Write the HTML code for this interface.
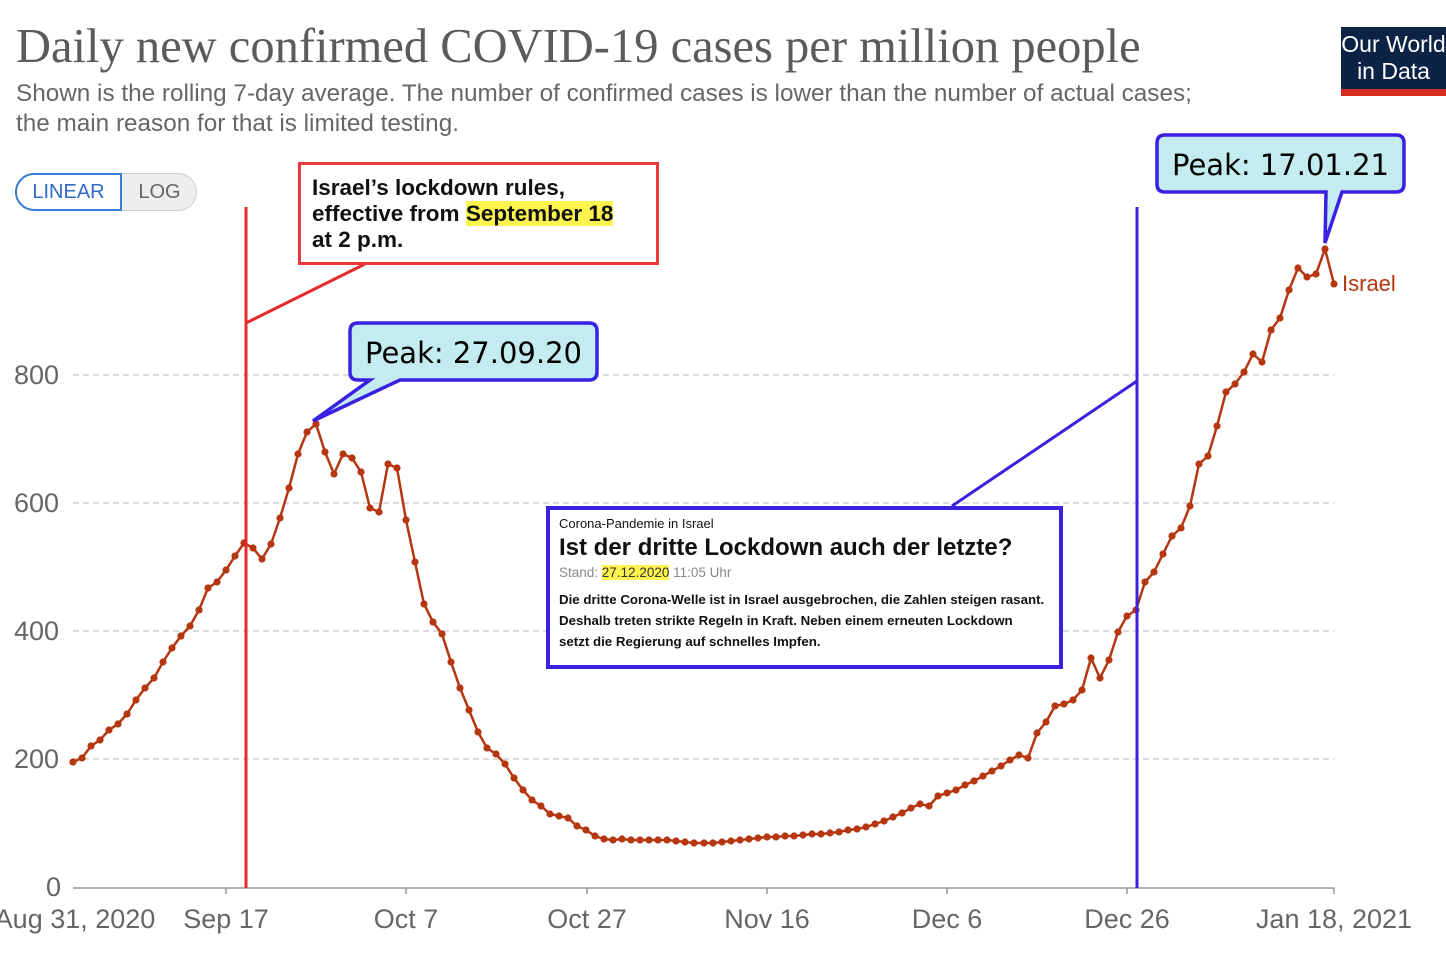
<!DOCTYPE html>
<html><head><meta charset="utf-8"><style>
body{margin:0;background:#fff;width:1446px;height:956px;overflow:hidden;position:relative;font-family:"Liberation Sans",sans-serif}
.a{position:absolute}
</style></head><body>
<div class="a" style="left:16px;top:19px;font-family:'Liberation Serif',serif;font-size:48.5px;color:#5b5b5b;white-space:nowrap">Daily new confirmed COVID-19 cases per million people</div>
<div class="a" style="left:16px;top:79px;font-size:24.3px;color:#666;line-height:30px;white-space:nowrap">Shown is the rolling 7-day average. The number of confirmed cases is lower than the number of actual cases;<br>the main reason for that is limited testing.</div>
<div class="a" style="left:1341px;top:27px;width:105px;height:62px;background:#0d2346;color:#fff;font-size:23px;line-height:27px;text-align:center;padding-top:4px;box-sizing:border-box;white-space:nowrap;overflow:hidden">Our World<br>in Data</div>
<div class="a" style="left:1341px;top:89px;width:105px;height:7px;background:#d42b21"></div>
<div class="a" style="left:15px;top:173px;width:182px;height:38px;border:1px solid #ccc;border-radius:19px;background:#eee;box-sizing:border-box"></div>
<div class="a" style="left:15px;top:173px;width:107px;height:38px;border:2px solid #3a7bd5;border-radius:19px 0 0 19px;background:#fff;box-sizing:border-box;color:#2f6bc8;font-size:20px;line-height:34px;text-align:center">LINEAR</div>
<div class="a" style="left:122px;top:173px;width:75px;height:38px;color:#666;font-size:20px;line-height:38px;text-align:center">LOG</div>
<svg class="a" style="left:0;top:0" width="1446" height="956">
<defs><marker id="m" markerWidth="8" markerHeight="8" refX="4" refY="4" markerUnits="userSpaceOnUse"><circle cx="4" cy="4" r="3.6" fill="#b5360f"/></marker></defs>
<g stroke="#d0d0d0" stroke-width="1.5" stroke-dasharray="6,4">
<line x1="73" y1="375" x2="1334" y2="375"/><line x1="73" y1="503" x2="1334" y2="503"/><line x1="73" y1="631" x2="1334" y2="631"/><line x1="73" y1="759" x2="1334" y2="759"/></g>
<line x1="73" y1="888" x2="1334" y2="888" stroke="#999" stroke-width="1.5"/>
<g stroke="#999" stroke-width="1.5"><line x1="226" y1="888" x2="226" y2="894"/><line x1="406" y1="888" x2="406" y2="894"/><line x1="587" y1="888" x2="587" y2="894"/><line x1="767" y1="888" x2="767" y2="894"/><line x1="947" y1="888" x2="947" y2="894"/><line x1="1127" y1="888" x2="1127" y2="894"/><line x1="1334" y1="888" x2="1334" y2="894"/></g>
<g font-size="27" fill="#666" font-family="Liberation Sans,sans-serif">
<text x="14" y="384">800</text><text x="14" y="512">600</text><text x="14" y="640">400</text><text x="14" y="768">200</text><text x="46" y="896">0</text>
<g text-anchor="middle"><text x="75" y="928">Aug 31, 2020</text><text x="226" y="928">Sep 17</text><text x="406" y="928">Oct 7</text><text x="587" y="928">Oct 27</text><text x="767" y="928">Nov 16</text><text x="947" y="928">Dec 6</text><text x="1127" y="928">Dec 26</text><text x="1334" y="928">Jan 18, 2021</text></g></g>
<polyline fill="none" stroke="#b5360f" stroke-width="2.5" marker-start="url(#m)" marker-mid="url(#m)" marker-end="url(#m)" points="73,762 82,758 91,746 100,740 109,730 118,724 127,714 136,700 145,688 154,678 163,662 172,648 181,636 190,626 199,610 208,588 217,582 226,570 235,556 244,543 253,548 262,559 271,544 280,518 289,488 298,454 307,432 316,424 325,452 334,474 343,454 352,458 361,472 370,508 379,512 388,464 397,468 406,520 415,562 424,604 433,622 442,634 451,662 460,688 469,710 478,732 487,748 496,754 505,764 514,778 523,790 532,800 541,806 550,814 559,816 568,818 577,826 586,830 595,836 604,839 613,840 622,839 631,840 640,840 649,840 658,840 667,840 676,841 685,842 694,843 704,843 713,843 722,842 731,841 740,840 749,839 758,838 767,837 776,837 785,836 794,836 803,835 812,834 821,834 830,833 839,832 848,830 857,829 866,827 875,824 884,821 893,817 902,813 911,808 920,804 929,806 938,796 947,793 956,790 965,785 974,781 983,776 992,771 1001,766 1010,760 1019,755 1028,758 1037,733 1046,722 1055,706 1064,704 1073,700 1082,690 1091,658 1100,678 1109,660 1118,632 1127,616 1136,610 1145,582 1154,572 1163,554 1172,536 1181,528 1190,506 1199,464 1208,456 1217,426 1226,392 1235,384 1244,372 1253,354 1262,362 1271,330 1280,318 1289,290 1298,268 1307,277 1316,274 1325,249 1334,284"/>
<text x="1342" y="291" font-size="22" fill="#b5360f" font-family="Liberation Sans,sans-serif">Israel</text>
<line x1="246" y1="207" x2="246" y2="888" stroke="#e82a2a" stroke-width="3"/>
<line x1="246" y1="323" x2="365" y2="264" stroke="#e82a2a" stroke-width="3"/>
<line x1="1137" y1="207" x2="1137" y2="888" stroke="#3a20e0" stroke-width="3"/>
<line x1="1137" y1="381" x2="952" y2="506" stroke="#3a20e0" stroke-width="3"/>
<path d="M360,323 H589 Q597,323 597,331 V372 Q597,380 589,380 H400 L313,421 L370,380 H358 Q350,380 350,372 V331 Q350,323 358,323 Z" fill="#c4ecf0" stroke="#3a20e0" stroke-width="3.5"/>
<path d="M1165,135 H1396 Q1404,135 1404,143 V184 Q1404,192 1396,192 H1342 L1325,243 L1326,192 H1165 Q1157,192 1157,184 V143 Q1157,135 1165,135 Z" fill="#c4ecf0" stroke="#3a20e0" stroke-width="3.5"/>
<g font-size="29" fill="#000" font-family="DejaVu Sans,sans-serif"><text x="365" y="363">Peak: 27.09.20</text><text x="1172" y="175">Peak: 17.01.21</text></g>
</svg>
<div class="a" style="left:298px;top:162px;width:361px;height:103px;border:3px solid #e83a3a;background:#fff;box-sizing:border-box;padding:10px 0 0 11px;font-weight:bold;font-size:22.5px;line-height:26px;color:#111;white-space:nowrap">Israel’s lockdown rules,<br>effective from <span style="background:#fff34d">September 18</span><br>at 2 p.m.</div>
<div class="a" style="left:546px;top:506px;width:517px;height:163px;border:4px solid #3a20e0;background:#fff;box-sizing:border-box;padding:6px 0 0 9px;white-space:nowrap;color:#111">
<div style="font-size:13px;line-height:16px">Corona-Pandemie in Israel</div>
<div style="font-size:24px;font-weight:bold;line-height:32px">Ist der dritte Lockdown auch der letzte?</div>
<div style="font-size:13.5px;color:#888;line-height:18px">Stand: <span style="background:#fff34d;color:#333">27.12.2020</span> 11:05 Uhr</div>
<div style="font-size:13.3px;font-weight:bold;line-height:21px;margin-top:7px">Die dritte Corona-Welle ist in Israel ausgebrochen, die Zahlen steigen rasant.<br>Deshalb treten strikte Regeln in Kraft. Neben einem erneuten Lockdown<br>setzt die Regierung auf schnelles Impfen.</div>
</div>
</body></html>
